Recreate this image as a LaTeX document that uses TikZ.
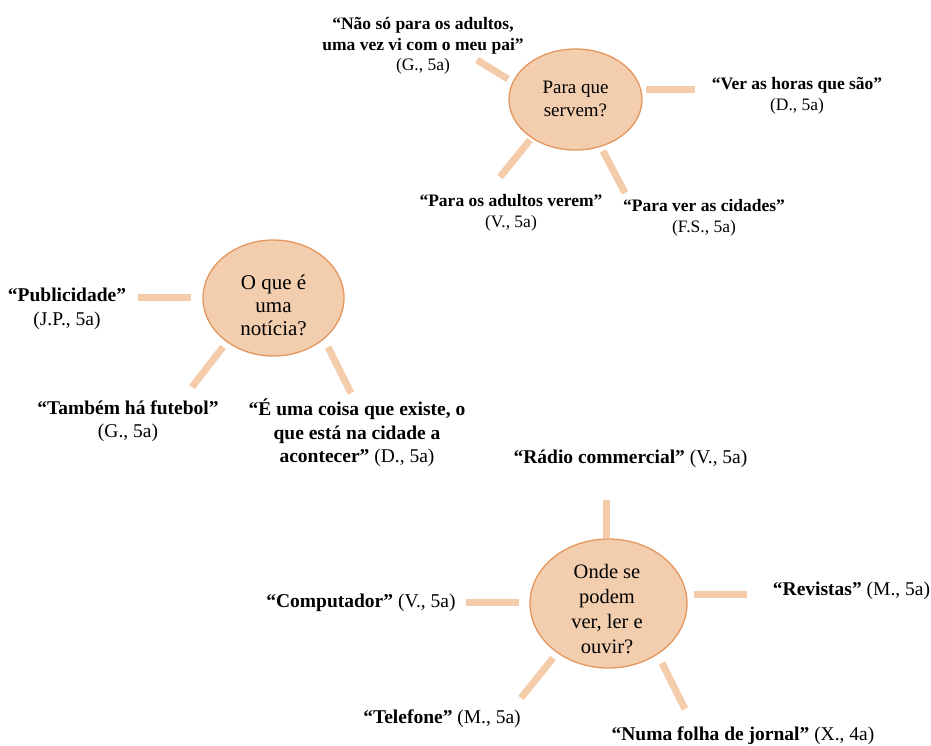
\documentclass[tikz,border=0pt]{standalone}
\usepackage{fontspec}
\setmainfont{Liberation Serif}
\usetikzlibrary{shapes.geometric}
\definecolor{bubfill}{HTML}{F2CEAF}
\definecolor{bubline}{HTML}{E4965C}
\definecolor{conn}{HTML}{F5CCA9}
\begin{document}
\begin{tikzpicture}[x=1pt,y=-1pt,
  bubble/.style={ellipse,draw=bubline,line width=1.3pt,fill=bubfill,inner sep=0pt},
  bubtext/.style={inner sep=0pt,align=center},
  quoteA/.style={inner sep=0pt,align=center,font=\bfseries\fontsize{17.5}{20.5}\selectfont},
  quoteB/.style={inner sep=0pt,align=center,font=\bfseries\fontsize{19.5}{23.5}\selectfont},
  spoke/.style={draw=conn,line width=7pt}]
\useasboundingbox (0,0) rectangle (931,746);

% ---- cluster 1
\node[bubble,minimum width=133,minimum height=101] (b1) at (575.5,99.5) {};
\node[bubtext,font=\fontsize{19}{23}\selectfont] (b1t) at (575.5,98.5) {Para que\\servem?};
\node[quoteA] (t11) at (423,46) {“Não só para os adultos,\\uma vez vi com o meu pai”\\{\mdseries (G., 5a)}};
\node[quoteA] (t12) at (797,96) {“Ver as horas que são”\\{\mdseries (D., 5a)}};
\node[quoteA] (t13) at (511,213) {“Para os adultos verem”\\{\mdseries (V., 5a)}};
\node[quoteA] (t14) at (704,218) {“Para ver as cidades”\\{\mdseries (F.S., 5a)}};
\coordinate (s11a) at (477,60); \coordinate (s11b) at (508,79);
\coordinate (s12a) at (646,90); \coordinate (s12b) at (695,90);
\coordinate (s13a) at (530,140); \coordinate (s13b) at (500,177);
\coordinate (s14a) at (603,151); \coordinate (s14b) at (625,193);
\draw[spoke] (s11a) -- (s11b);
\draw[spoke] (s12a) -- (s12b);
\draw[spoke] (s13a) -- (s13b);
\draw[spoke] (s14a) -- (s14b);

% ---- cluster 2
\node[bubble,minimum width=141,minimum height=116] (b2) at (273.5,298) {};
\node[bubtext,font=\fontsize{21}{23}\selectfont] (b2t) at (273.5,305) {O que é\\uma\\notícia?};
\node[quoteB] (t21) at (67,309) {“Publicidade”\\{\mdseries (J.P., 5a)}};
\node[quoteB] (t22) at (128,421) {“Também há futebol”\\{\mdseries (G., 5a)}};
\node[quoteB] (t23) at (357,433) {“É uma coisa que existe, o\\que está na cidade a\\acontecer” {\mdseries (D., 5a)}};
\coordinate (s21a) at (138,297); \coordinate (s21b) at (191,297);
\coordinate (s22a) at (223,347); \coordinate (s22b) at (192,387);
\coordinate (s23a) at (328,347); \coordinate (s23b) at (351,393);
\draw[spoke] (s21a) -- (s21b);
\draw[spoke] (s22a) -- (s22b);
\draw[spoke] (s23a) -- (s23b);

% ---- cluster 3
\node[bubble,minimum width=157,minimum height=129] (b3) at (608.5,603.5) {};
\node[bubtext,font=\fontsize{20.5}{24.7}\selectfont] (b3t) at (607,609) {Onde se\\podem\\ver, ler e\\ouvir?};
\node[quoteB] (t31) at (630.5,459) {“Rádio commercial” {\mdseries (V., 5a)}};
\node[quoteB] (t32) at (361,603) {“Computador” {\mdseries (V., 5a)}};
\node[quoteB] (t33) at (851.5,591) {“Revistas” {\mdseries (M., 5a)}};
\node[quoteB] (t34) at (442,719) {“Telefone” {\mdseries (M., 5a)}};
\node[quoteB] (t35) at (743,736) {“Numa folha de jornal” {\mdseries (X., 4a)}};
\coordinate (s31a) at (606,500); \coordinate (s31b) at (606,538);
\coordinate (s32a) at (466,602); \coordinate (s32b) at (519,602);
\coordinate (s33a) at (694,594); \coordinate (s33b) at (747,594);
\coordinate (s34a) at (553,658); \coordinate (s34b) at (521,698);
\coordinate (s35a) at (662,663); \coordinate (s35b) at (685,709);
\draw[spoke] (s31a) -- (s31b);
\draw[spoke] (s32a) -- (s32b);
\draw[spoke] (s33a) -- (s33b);
\draw[spoke] (s34a) -- (s34b);
\draw[spoke] (s35a) -- (s35b);
\end{tikzpicture}
\end{document}
